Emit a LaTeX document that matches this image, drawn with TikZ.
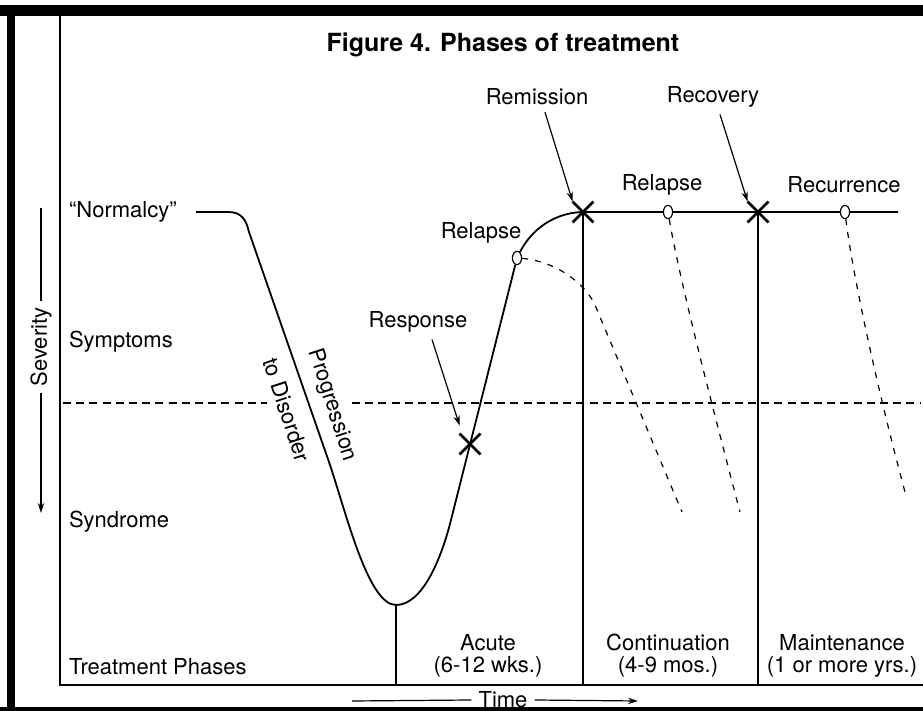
\documentclass[tikz,border=0pt]{standalone}
\usepackage{fontspec}
\setmainfont{TeX Gyre Heros}
\usetikzlibrary{positioning,shapes.geometric,shapes.misc,arrows.meta}
\tikzset{%
	every label text/.style={
		font=\fontsize{11}{11}\selectfont
	},
	level label/.style={
		every label text,
		anchor=west
	},
	phase label/.style={
		every label text,
		align=center
	},
	turn mark/.style={
		cross out,
		draw,
		line width=1.4pt,
		minimum size=9pt,
		inner sep=0pt
	},
	relapse mark/.style={
		ellipse,
		draw,
		fill=white,
		line width=0.6pt,
		minimum width=4.6pt,
		minimum height=6.6pt,
		inner sep=0pt
	},
	relapse path/.style={
		dash pattern=on 3pt off 3.5pt,
		line width=0.6pt
	},
}

\begin{document}
\begin{tikzpicture}[x=0.5pt, y=-0.5pt, >={Stealth[length=5pt,width=3.2pt]}]
	
	\useasboundingbox (0,0) rectangle (923,711);
	% scan frame
	\fill (0,5) rectangle (923,16);
	\fill (7,5) rectangle (15,711);
	\fill (0,707) rectangle (923,711);
	
	% axes
	\coordinate (y-top) at (60,16);
	\coordinate (origin) at (60,685);
	\coordinate (x-end) at (923,685);
	\draw [line width=0.8pt] (y-top) -- (origin) -- (x-end);
	
	\node [font=\bfseries\fontsize{12.5}{12.5}\selectfont] (title) at (503,45) {Figure 4. Phases of treatment};
	
	% severity levels
	\foreach \t/\y [count=\i] in {“Normalcy”/212, Symptoms/342, Syndrome/522, Treatment Phases/667}
	\node [level label] (level-\i) at (62,\y) {\t};
	
	\node [every label text, rotate=90] (severity) at (41,347) {Severity};
	\coordinate (severity-top) at (41,208);
	\coordinate (severity-tip) at (41,513);
	\draw [line width=0.6pt] (severity-top) -- (severity.east);
	\draw [->, line width=0.6pt] (severity.west) -- (severity-tip);
	
	% threshold of the syndrome
	\draw [dash pattern=on 4pt off 2.6pt, line width=0.7pt] (63,403) -- (267,403) (352,403) -- (921,403);
	
	% marks on the course
	\node [relapse mark] (relapse-a) at (517,258) {};
	\node [relapse mark] (relapse-b) at (668,212) {};
	\node [relapse mark] (recurrence-o) at (845,212) {};
	\node [turn mark] (response-x) at (470,444) {};
	\node [turn mark] (remission-x) at (583,212) {};
	\node [turn mark] (recovery-x) at (758,212) {};
	\coordinate (trough) at (396,605);
	\coordinate (onset) at (196,212);
	\coordinate (course-end) at (898,212);
	
	% course of the illness
	\draw [line width=0.9pt] (onset) -- (228,212) .. controls (242,212) and (246,220) .. (249,232)
	-- (329,462) .. controls (346,512) and (368,605) .. (trough)
	.. controls (422,605) and (441,560) .. (451,520) -- (relapse-a)
	(relapse-a) .. controls (528,236) and (548,213) .. (remission-x.center)
	-- (relapse-b) (relapse-b) -- (recovery-x.center) -- (recurrence-o) (recurrence-o) -- (course-end);
	
	% treatment phases
	\draw [line width=0.7pt] (trough) -- (trough |- origin);
	\draw [line width=0.7pt] (remission-x.center) -- (remission-x |- origin);
	\draw [line width=0.7pt] (recovery-x.center) -- (recovery-x |- origin);
	
	\foreach \t/\d/\x [count=\i] in {Acute/(6-12 wks.)/488, Continuation/(4-9 mos.)/668, Maintenance/(1 or more yrs.)/842}
	\node [phase label] (phase-\i) at (\x,656) {\t\\\d};
	
	% relapses
	\draw [relapse path] (relapse-a) .. controls (555,261) and (585,283) .. (595,305) -- (682,512);
	\draw [relapse path] (relapse-b) .. controls (678,270) and (700,360) .. (740,512);
	\draw [relapse path] (recurrence-o) .. controls (852,270) and (875,380) .. (905,492);
	
	% events
	\node [every label text] (remission) at (537,97) {Remission};
	\node [every label text] (recovery) at (713,97) {Recovery};
	\node [every label text] (response) at (418,322) {Response};
	\node [every label text] (relapse-1) at (481,233) {Relapse};
	\node [every label text] (relapse-2) at (662,185) {Relapse};
	\node [every label text] (recurrence) at (844,185) {Recurrence};
	
	\draw [->, line width=0.6pt] ([xshift=4pt]remission.south) -- (remission-x.north west);
	\draw [->, line width=0.6pt] ([xshift=3.5pt]recovery.south) -- (recovery-x.north west);
	\draw [->, line width=0.6pt] ([xshift=7pt]response.south) -- ([yshift=4pt]response-x.north west);
	
	\node [every label text, rotate=-72] (progression) at (332,405) {Progression};
	\node [every label text, rotate=-72] (to-disorder) at (287,410) {to Disorder};
	
	% time
	\node [every label text] (time) at (503,700) {Time};
	\coordinate (time-start) at (352,701);
	\coordinate (time-tip) at (638,701);
	\draw [line width=0.6pt] (time-start) -- (time.west);
	\draw [->, line width=0.6pt] (time.east) -- (time-tip);
	
\end{tikzpicture}
\end{document}
